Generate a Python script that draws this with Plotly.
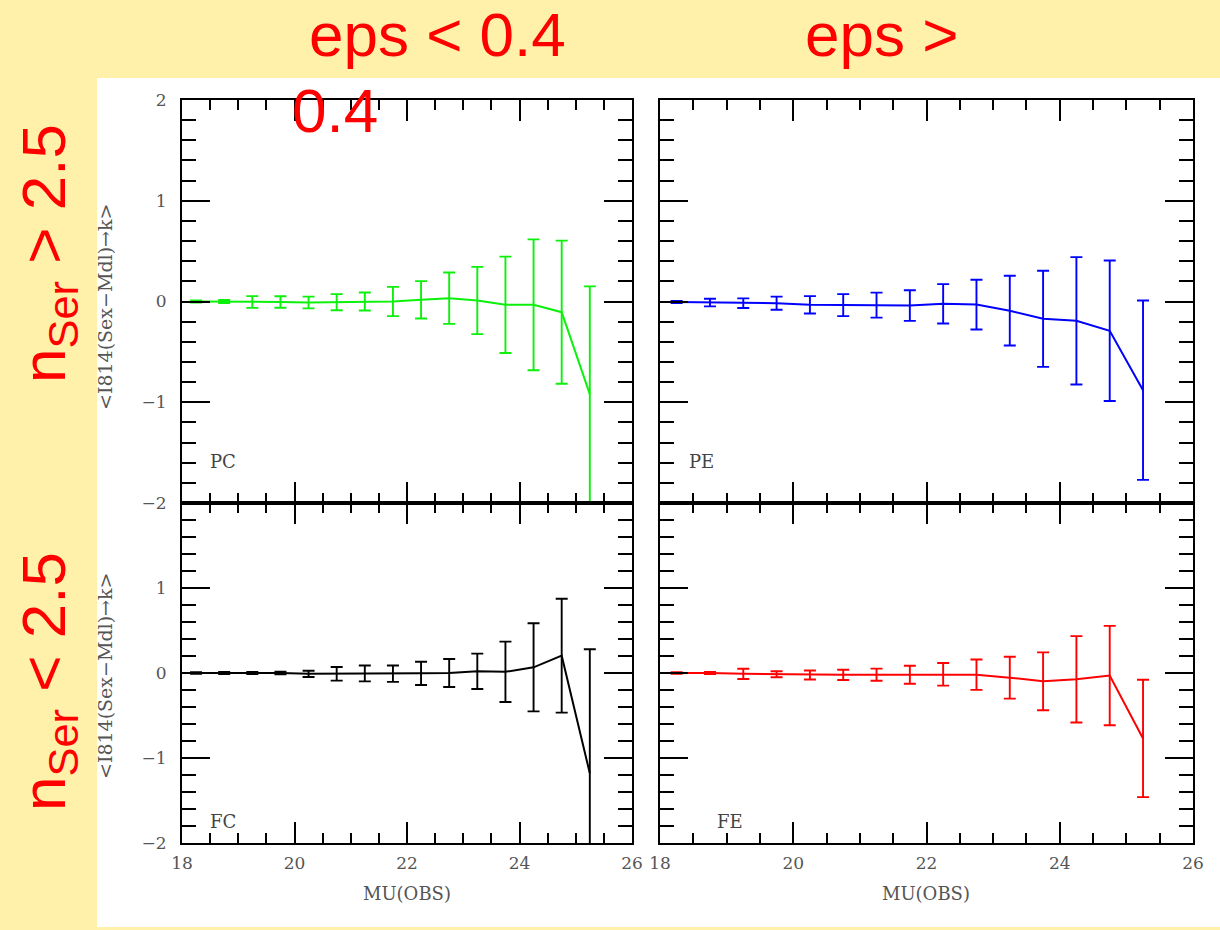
import plotly.graph_objects as go

# ---- data ----
mu = [18.25, 18.75, 19.25, 19.75, 20.25, 20.75, 21.25, 21.75,
      22.25, 22.75, 23.25, 23.75, 24.25, 24.75, 25.25]

pc_val = [0.0, 0.0, -0.005, -0.005, -0.01, -0.007, 0.0, 0.0,
          0.017, 0.033, 0.01, -0.033, -0.033, -0.106, -0.92]
pc_err = [0.01, 0.015, 0.058, 0.057, 0.058, 0.08, 0.09, 0.145,
          0.185, 0.255, 0.334, 0.478, 0.65, 0.71, 1.07]

pe_val = [-0.005, -0.01, -0.017, -0.017, -0.033, -0.036, -0.036, -0.04,
          -0.023, -0.031, -0.091, -0.172, -0.192, -0.29, -0.88]
pe_err = [0.01, 0.038, 0.048, 0.065, 0.086, 0.109, 0.124, 0.152,
          0.195, 0.247, 0.346, 0.477, 0.632, 0.697, 0.89]

fc_val = [0.0, 0.0, 0.0, 0.0, -0.01, -0.01, -0.005, -0.008,
          -0.004, 0.0, 0.02, 0.014, 0.067, 0.204, -1.18]
fc_err = [0.01, 0.012, 0.012, 0.015, 0.037, 0.08, 0.094, 0.096,
          0.137, 0.165, 0.208, 0.355, 0.518, 0.67, 1.46]

fe_val = [0.0, 0.0, -0.01, -0.015, -0.024, -0.022, -0.02, -0.02,
          -0.016, -0.02, -0.055, -0.098, -0.074, -0.03, -0.77]
fe_err = [0.01, 0.012, 0.06, 0.035, 0.053, 0.06, 0.072, 0.106,
          0.133, 0.178, 0.247, 0.341, 0.508, 0.584, 0.69]

x_ticks = [18, 20, 22, 24, 26]
y_ticks_top = [-2, -1, 0, 1, 2]
y_text_top = ["\u22122", "\u22121", "0", "1", "2"]
y_ticks_bottom = [-2, -1, 0, 1]
y_text_bottom = ["\u22122", "\u22121", "0", "1"]

panel_labels = ["PC", "PE", "FC", "FE"]
col_titles = ["eps &lt; 0.4", "eps &gt;", "0.4"]
row_titles = ["n<sub>Ser</sub> &gt; 2.5", "n<sub>Ser</sub> &lt; 2.5"]
y_title = "&lt;I814(Sex\u2212Mdl)\u2192k&gt;"
x_title = "MU(OBS)"

W, H = 1220, 930
BG = "#FFF1AA"
TICKFONT = dict(family="DejaVu Serif", size=17, color="#555555")


def px(x):
    return x / W


def py(y):
    return 1 - y / H


fig = go.Figure()

series = [
    (pc_val, pc_err, "#0CF00C", "x", "y"),
    (pe_val, pe_err, "#0000FF", "x2", "y2"),
    (fc_val, fc_err, "#000000", "x3", "y3"),
    (fe_val, fe_err, "#FF0000", "x4", "y4"),
]
for vals, errs, col, xa, ya in series:
    fig.add_trace(go.Scatter(
        x=mu, y=vals, mode="lines", xaxis=xa, yaxis=ya,
        line=dict(color=col, width=2),
        error_y=dict(type="data", array=errs, visible=True,
                     color=col, thickness=1.9, width=6),
        showlegend=False, hoverinfo="skip"))

xdom_l = [px(182), px(632)]
xdom_r = [px(660), px(1193)]
ydom_t = [py(503), py(100)]
ydom_b = [py(843), py(503)]


def xaxis(dom, anchor, labels):
    return dict(domain=dom, anchor=anchor, range=[18, 26],
                tickmode="array", tickvals=x_ticks,
                ticktext=[str(v) for v in x_ticks],
                showticklabels=labels, tickfont=TICKFONT,
                ticks="inside", ticklen=21, tickwidth=2, tickcolor="black",
                ticklabelstandoff=4, automargin=False,
                minor=dict(ticks="inside", ticklen=10, tickwidth=2,
                           tickcolor="black", tick0=18, dtick=0.5),
                showline=True, linecolor="black", linewidth=2, mirror="ticks",
                showgrid=False, zeroline=False, fixedrange=True)


def yaxis(dom, anchor, labels, tv, tt):
    return dict(domain=dom, anchor=anchor, range=[-2, 2],
                tickmode="array", tickvals=tv, ticktext=tt,
                showticklabels=labels, tickfont=TICKFONT,
                ticks="inside", ticklen=28, tickwidth=2, tickcolor="black",
                ticklabelstandoff=10, automargin=False,
                minor=dict(ticks="inside", ticklen=14, tickwidth=2,
                           tickcolor="black", tick0=-2, dtick=0.2),
                showline=True, linecolor="black", linewidth=2, mirror="ticks",
                showgrid=False, zeroline=False, fixedrange=True)


fig.update_layout(
    width=W, height=H, autosize=False,
    margin=dict(l=0, r=0, t=0, b=0, pad=0, autoexpand=False),
    paper_bgcolor=BG, plot_bgcolor="white",
    xaxis=xaxis(xdom_l, "y", False),
    yaxis=yaxis(ydom_t, "x", True, y_ticks_top, y_text_top),
    xaxis2=xaxis(xdom_r, "y2", False),
    yaxis2=yaxis(ydom_t, "x2", False, y_ticks_top, y_text_top),
    xaxis3=xaxis(xdom_l, "y3", True),
    yaxis3=yaxis(ydom_b, "x3", True, y_ticks_bottom, y_text_bottom),
    xaxis4=xaxis(xdom_r, "y4", True),
    yaxis4=yaxis(ydom_b, "x4", False, y_ticks_bottom, y_text_bottom),
)

# white backing panel
fig.add_shape(type="rect", xref="paper", yref="paper",
              x0=px(97), x1=1.0, y0=py(927), y1=py(78),
              fillcolor="white", line=dict(width=0), layer="below")

anns = []
# panel labels
lab_pos = [("x", "y", 18.73, -1.59), ("x2", "y2", 18.63, -1.59),
           ("x3", "y3", 18.73, -1.75), ("x4", "y4", 19.05, -1.75)]
for lab, (xr, yr, xv, yv) in zip(panel_labels, lab_pos):
    anns.append(dict(text=lab, xref=xr, yref=yr, x=xv, y=yv,
                     showarrow=False, xanchor="center", yanchor="middle",
                     font=dict(family="DejaVu Serif", size=18, color="#444444")))

# axis titles
for yc in (307, 676):
    anns.append(dict(text=y_title, xref="paper", yref="paper",
                     x=px(105), y=py(yc), textangle=-90, showarrow=False,
                     xanchor="center", yanchor="middle",
                     font=dict(family="DejaVu Serif", size=19, color="#555555")))
for xc in (407, 926):
    anns.append(dict(text=x_title, xref="paper", yref="paper",
                     x=px(xc), y=py(893), showarrow=False,
                     xanchor="center", yanchor="middle",
                     font=dict(family="DejaVu Serif", size=18, color="#555555")))

# red header texts
RED = dict(family="Liberation Sans", size=62, color="#FF0000")
for txt, xl, yc in [(col_titles[0], 307, 34.5), (col_titles[1], 803, 34.5),
                    (col_titles[2], 290, 110.5)]:
    anns.append(dict(text=txt, xref="paper", yref="paper",
                     x=px(xl), y=py(yc), showarrow=False,
                     xanchor="left", yanchor="middle", font=RED))
for txt, yc in [(row_titles[0], 254), (row_titles[1], 682)]:
    anns.append(dict(text=txt, xref="paper", yref="paper",
                     x=px(48), y=py(yc), textangle=-90, showarrow=False,
                     xanchor="center", yanchor="middle", font=RED))

fig.update_layout(annotations=anns)

fig.write_html("out.html", config={"displayModeBar": False, "staticPlot": True})

# remove default page margins so the 1220x930 figure fills the window exactly
with open("out.html", "r", encoding="utf-8") as f:
    html = f.read()
html = html.replace("<head>", "<head><style>html,body{margin:0;padding:0;overflow:hidden;}</style>", 1)
with open("out.html", "w", encoding="utf-8") as f:
    f.write(html)
